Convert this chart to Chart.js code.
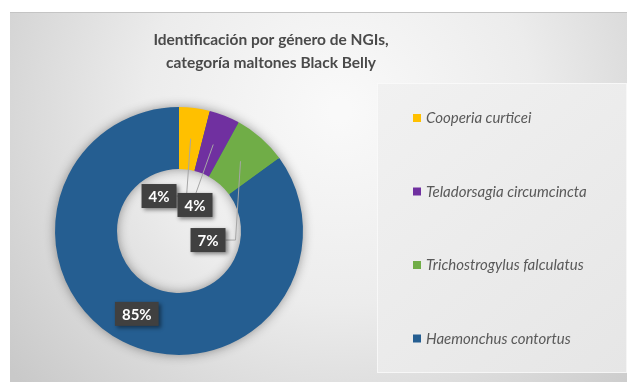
<!DOCTYPE html>
<html>
<head>
<meta charset="utf-8">
<script src="https://cdn.jsdelivr.net/npm/chart.js@4"></script>
<style>
  html, body { margin: 0; padding: 0; background: #ffffff; }
  #wrap { width: 627px; height: 382px; }
</style>
</head>
<body>
<div id="wrap"><canvas id="c" width="627" height="382"></canvas></div>
<script>
// Genera identificados (NGIs) y su proporción en porcentaje
const categories = [
  'Cooperia curticei',
  'Teladorsagia circumcincta',
  'Trichostrogylus falculatus',
  'Haemonchus contortus'
];
const percentages = [4, 4, 7, 85];
const sliceColors = ['#FFC000', '#7030A0', '#70AD47', '#255E91'];
const titleLines = ['Identificación por género de NGIs,', 'categoría maltones Black Belly'];

// Fondo del gráfico, panel de la leyenda, título y sombra del anillo
const backdrop = {
  id: 'backdrop',
  beforeDraw(chart) {
    const ctx = chart.ctx;
    const W = chart.width, H = chart.height;
    ctx.save();
    ctx.fillStyle = '#ffffff';
    ctx.fillRect(0, 0, W, H);
    const g = ctx.createRadialGradient(340, 110, 10, 340, 110, 420);
    g.addColorStop(0, '#f9f9f9');
    g.addColorStop(0.45, '#ececec');
    g.addColorStop(1, '#c9c9c9');
    ctx.fillStyle = g;
    ctx.fillRect(10, 12, W - 10, H - 12);
    ctx.fillStyle = '#c4c4c4';
    ctx.fillRect(10, 12, W - 10, 1);
    // panel de la leyenda
    const lg = ctx.createLinearGradient(377, 83, 627, 373);
    lg.addColorStop(0, '#f1f1f1');
    lg.addColorStop(1, '#e6e6e6');
    ctx.fillStyle = lg;
    ctx.fillRect(377, 83, W - 377, 290);
    ctx.strokeStyle = 'rgba(255,255,255,0.6)';
    ctx.lineWidth = 1;
    ctx.strokeRect(377.5, 83.5, W - 378, 289);
    // título en dos líneas
    const t = chart.options.plugins.titleBlock;
    ctx.fillStyle = '#4a4a4a';
    ctx.font = t.font;
    ctx.textAlign = 'center';
    ctx.textBaseline = 'middle';
    titleLines.forEach((line, i) => ctx.fillText(line, t.x, t.top + i * t.step));
    ctx.restore();
  },
  beforeDatasetsDraw(chart) {
    const meta = chart.getDatasetMeta(0);
    if (!meta.data.length) return;
    const a = meta.data[0].getProps(['x', 'y', 'innerRadius', 'outerRadius'], true);
    const ctx = chart.ctx;
    ctx.save();
    ctx.shadowColor = 'rgba(0,0,0,0.45)';
    ctx.shadowBlur = 12;
    ctx.beginPath();
    ctx.arc(a.x, a.y, a.outerRadius - 1, 0, Math.PI * 2);
    ctx.arc(a.x, a.y, a.innerRadius + 1, 0, Math.PI * 2, true);
    ctx.fillStyle = sliceColors[3];
    ctx.fill();
    ctx.restore();
  }
};

// Leyenda dibujada a la derecha, con un elemento por género
const sideLegend = {
  id: 'sideLegend',
  afterDraw(chart) {
    const ctx = chart.ctx;
    const o = chart.options.plugins.sideLegend;
    ctx.save();
    ctx.font = o.font;
    ctx.textBaseline = 'middle';
    chart.data.labels.forEach((lbl, i) => {
      const y = o.top + i * o.step;
      ctx.fillStyle = chart.data.datasets[0].backgroundColor[i];
      ctx.fillRect(o.x, y - 4, 8, 8);
      ctx.fillStyle = '#595959';
      ctx.fillText(lbl, o.x + 13, y + 0.5);
    });
    ctx.restore();
  }
};

// Etiquetas de porcentaje en cajas oscuras con líneas guía
const valueBoxes = {
  id: 'valueBoxes',
  afterDatasetsDraw(chart) {
    const ctx = chart.ctx;
    const o = chart.options.plugins.valueBoxes;
    const meta = chart.getDatasetMeta(0);
    const data = chart.data.datasets[0].data;
    ctx.save();
    ctx.font = 'bold 15px Lato, "Open Sans", sans-serif';
    ctx.textAlign = 'center';
    ctx.textBaseline = 'middle';
    meta.data.forEach((arc, i) => {
      const p = arc.getProps(['x', 'y', 'startAngle', 'endAngle', 'innerRadius', 'outerRadius'], true);
      const mid = (p.startAngle + p.endAngle) / 2;
      const rm = (p.innerRadius + p.outerRadius) / 2;
      const ax = p.x + Math.cos(mid) * rm;
      const ay = p.y + Math.sin(mid) * rm;
      const off = o.offsets[i];
      let cx = ax, cy = ay;
      if (off) { cx = p.x + off[0] * p.outerRadius; cy = p.y + off[1] * p.outerRadius; }
      const text = data[i] + '%';
      const w = ctx.measureText(text).width + 14;
      const h = 24;
      const bx = cx - w / 2, by = cy - h / 2;
      if (off) {
        ctx.strokeStyle = '#a6a6a6';
        ctx.lineWidth = 1;
        ctx.beginPath();
        ctx.moveTo(ax, ay);
        if (Math.abs(ax - cx) > w / 2 + 9) {
          const side = ax > cx ? bx + w : bx;
          const ex = side + (ax > cx ? 10 : -10);
          ctx.lineTo(ex, cy);
          ctx.lineTo(side, cy);
        } else {
          ctx.lineTo(cx + 1, by);
        }
        ctx.stroke();
      }
      ctx.save();
      ctx.shadowColor = 'rgba(0,0,0,0.45)';
      ctx.shadowBlur = 4;
      ctx.shadowOffsetX = 2;
      ctx.shadowOffsetY = 2;
      ctx.fillStyle = '#404040';
      ctx.fillRect(bx, by, w, h);
      ctx.restore();
      ctx.fillStyle = '#ffffff';
      ctx.fillText(text, cx, cy + 1);
    });
    ctx.restore();
  }
};

new Chart(document.getElementById('c'), {
  type: 'doughnut',
  data: {
    labels: categories,
    datasets: [{
      data: percentages,
      backgroundColor: sliceColors,
      borderWidth: 0,
      hoverOffset: 0
    }]
  },
  options: {
    responsive: false,
    animation: false,
    cutout: '50%',
    events: [],
    layout: { padding: { top: 107, left: 55, right: 324, bottom: 27 } },
    plugins: {
      legend: { display: false },
      tooltip: { enabled: false },
      title: { display: false },
      titleBlock: { x: 271, top: 40, step: 23, font: 'bold 15.5px Lato, "Open Sans", sans-serif' },
      sideLegend: { x: 413, top: 118, step: 73.5, font: 'italic 15px Lato, "Open Sans", sans-serif' },
      valueBoxes: {
        offsets: [[-0.161, -0.282], [0.129, -0.210], [0.234, 0.073], null]
      }
    }
  },
  plugins: [backdrop, valueBoxes, sideLegend]
});
</script>
</body>
</html>
